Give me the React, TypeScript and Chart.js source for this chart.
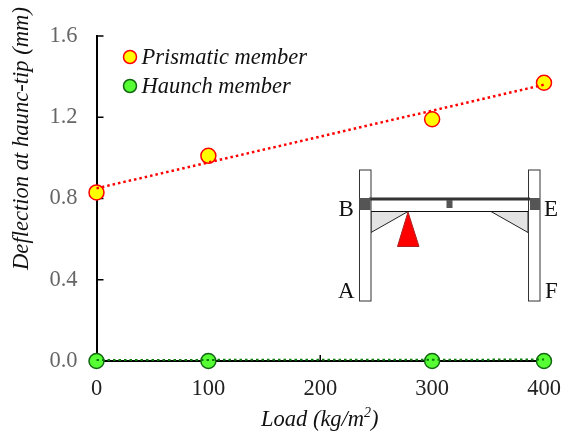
import React, { useEffect, useRef } from "react";
import { Chart, registerables } from "chart.js";

Chart.register(...registerables);

const loads = [0, 100, 300, 400];
const prismatic = [0.83, 1.01, 1.19, 1.37];
const haunch = [0, 0, 0, 0];
const trendLoads = [0, 400];
const prismaticTrend = [0.85, 1.36];
const haunchTrend = [0.005, 0.007];
const xTicks = [0, 100, 200, 300, 400];
const yTicks = [0, 0.4, 0.8, 1.2, 1.6];
const seriesNames = ["Prismatic member", "Haunch member"];
const FONT = '"Liberation Serif", "Times New Roman", serif';

const pairs = (xs: number[], ys: number[]) => xs.map((x, i) => ({ x, y: ys[i] }));

const ticksPlugin = {
  id: "innerTicks",
  beforeDatasetsDraw(chart: any) {
    const { ctx, scales } = chart;
    ctx.save();
    ctx.strokeStyle = "#000";
    ctx.lineWidth = 1.5;
    ctx.beginPath();
    scales.y.ticks.forEach((t: any) => {
      const py = scales.y.getPixelForValue(t.value);
      if (t.value === 0) return;
      ctx.moveTo(scales.x.left, py);
      ctx.lineTo(scales.x.left + 7, py);
    });
    scales.x.ticks.forEach((t: any) => {
      const px = scales.x.getPixelForValue(t.value);
      if (t.value === 0) return;
      ctx.moveTo(px, scales.y.bottom);
      ctx.lineTo(px, scales.y.bottom - 6);
    });
    ctx.stroke();
    ctx.restore();
  },
};

const titlesPlugin = {
  id: "axisTitles",
  afterDraw(chart: any) {
    const { ctx } = chart;
    ctx.save();
    ctx.fillStyle = "#111";
    ctx.textBaseline = "alphabetic";
    // y title
    ctx.save();
    ctx.translate(28, 138.5);
    ctx.rotate(-Math.PI / 2);
    ctx.font = `italic 22.6px ${FONT}`;
    ctx.textAlign = "center";
    ctx.fillText("Deflection at haunc-tip (mm)", 0, 0);
    ctx.restore();
    // x title with superscript
    ctx.textAlign = "left";
    ctx.font = `italic 22.5px ${FONT}`;
    const a = "Load (kg/m";
    const x0 = 261;
    const y0 = 426;
    ctx.fillText(a, x0, y0);
    const w = ctx.measureText(a).width;
    ctx.font = `italic 14px ${FONT}`;
    ctx.fillText("2", x0 + w, y0 - 9);
    const w2 = ctx.measureText("2").width;
    ctx.font = `italic 22.5px ${FONT}`;
    ctx.fillText(")", x0 + w + w2, y0);
    ctx.restore();
  },
};

const legendPlugin = {
  id: "insideLegend",
  afterDraw(chart: any) {
    const { ctx } = chart;
    const rows = [
      { y: 57, fill: "#ffff00", stroke: "#ff0000" },
      { y: 86, fill: "#55ff33", stroke: "#116611" },
    ];
    ctx.save();
    rows.forEach((r, i) => {
      ctx.beginPath();
      ctx.arc(130, r.y, 6.5, 0, Math.PI * 2);
      ctx.fillStyle = r.fill;
      ctx.fill();
      ctx.lineWidth = 1.5;
      ctx.strokeStyle = r.stroke;
      ctx.stroke();
      ctx.fillStyle = "#111";
      ctx.font = `italic 22.5px ${FONT}`;
      ctx.textAlign = "left";
      ctx.textBaseline = "middle";
      ctx.fillText(seriesNames[i], 141.5, r.y + 1);
    });
    ctx.restore();
  },
};

const insetPlugin = {
  id: "frameInset",
  afterDraw(chart: any) {
    const { ctx } = chart;
    ctx.save();
    const poly = (pts: number[][], fill: string, stroke: string, lw = 1) => {
      ctx.beginPath();
      pts.forEach(([a, b], i) => (i ? ctx.lineTo(a, b) : ctx.moveTo(a, b)));
      ctx.closePath();
      ctx.fillStyle = fill;
      ctx.fill();
      ctx.lineWidth = lw;
      ctx.strokeStyle = stroke;
      ctx.stroke();
    };
    // haunches
    poly([[371, 211.5], [408, 211.5], [371, 232.5]], "#e3e3e3", "#222");
    poly([[491, 211.5], [528, 211.5], [528, 232.5]], "#e3e3e3", "#222");
    // beam
    ctx.fillStyle = "#fff";
    ctx.strokeStyle = "#111";
    ctx.lineWidth = 1;
    ctx.fillRect(371, 199, 157, 12.5);
    ctx.beginPath();
    ctx.moveTo(371, 211.5);
    ctx.lineTo(528, 211.5);
    ctx.stroke();
    // columns
    ctx.lineWidth = 1;
    ctx.strokeStyle = "#333";
    ctx.fillRect(359.5, 170, 11.5, 131);
    ctx.strokeRect(359.5, 170, 11.5, 131);
    ctx.fillRect(528.5, 170, 11.5, 131);
    ctx.strokeRect(528.5, 170, 11.5, 131);
    // top flange and connections
    ctx.fillStyle = "#333";
    ctx.fillRect(369, 197.5, 161, 3);
    ctx.fillStyle = "#555";
    ctx.fillRect(359.5, 198, 11, 12);
    ctx.fillRect(530, 198, 10, 12);
    ctx.fillRect(446.5, 200, 6, 8);
    // load wedge
    poly([[408, 212], [397.5, 246.5], [419, 246.5]], "#ff0000", "#aa2222");
    // labels
    ctx.fillStyle = "#111";
    ctx.font = `23px ${FONT}`;
    ctx.textBaseline = "middle";
    ctx.textAlign = "left";
    ctx.fillText("B", 338.5, 210);
    ctx.fillText("E", 544, 210);
    ctx.fillText("A", 338, 292);
    ctx.fillText("F", 545, 292);
    ctx.restore();
  },
};

export default function App() {
  const ref = useRef<HTMLCanvasElement>(null);
  useEffect(() => {
    const chart = new Chart(ref.current!, {
      type: "scatter",
      data: {
        datasets: [
          {
            label: "Prismatic trend",
            data: pairs(trendLoads, prismaticTrend),
            showLine: true,
            borderColor: "#ff0000",
            borderWidth: 2.5,
            borderDash: [2.5, 3],
            pointRadius: 0,
          },
          {
            label: "Haunch trend",
            data: pairs(trendLoads, haunchTrend),
            showLine: true,
            borderColor: "#0a7a0a",
            borderWidth: 2,
            borderDash: [2.5, 3],
            pointRadius: 0,
          },
          {
            label: seriesNames[0],
            data: pairs(loads, prismatic),
            pointRadius: 7.5,
            pointBackgroundColor: "#ffff00",
            pointBorderColor: "#ff0000",
            pointBorderWidth: 1.5,
          },
          {
            label: seriesNames[1],
            data: pairs(loads, haunch),
            pointRadius: 7.5,
            pointBackgroundColor: "#55ff33",
            pointBorderColor: "#116611",
            pointBorderWidth: 1.5,
          },
        ],
      } as any,
      options: {
        animation: false,
        responsive: false,
        clip: false,
        layout: { padding: { left: 0, top: 36, right: 22, bottom: 0 } },
        plugins: { legend: { display: false }, tooltip: { enabled: false } },
        scales: {
          x: {
            type: "linear",
            min: 0,
            max: 400,
            afterBuildTicks: (s: any) => {
              s.ticks = xTicks.map((value) => ({ value }));
            },
            afterFit: (s: any) => {
              s.height = 75;
              s.paddingLeft = 0;
              s.paddingRight = 0;
            },
            grid: { display: false, drawTicks: false },
            border: { color: "#000", width: 2 },
            ticks: {
              color: "#222",
              padding: 15,
              maxRotation: 0,
              font: { family: FONT, size: 22.5 },
            },
          },
          y: {
            min: 0,
            max: 1.6,
            afterBuildTicks: (s: any) => {
              s.ticks = yTicks.map((value) => ({ value }));
            },
            afterFit: (s: any) => {
              s.width = 96.5;
              s.paddingTop = 0;
              s.paddingBottom = 0;
            },
            grid: { display: false, drawTicks: false },
            border: { color: "#000", width: 2 },
            ticks: {
              color: "#666",
              padding: 19,
              callback: (v: any) => Number(v).toFixed(1),
              font: { family: FONT, size: 22.5 },
            },
          },
        },
      },
      plugins: [ticksPlugin, titlesPlugin, legendPlugin, insetPlugin],
    } as any);
    return () => chart.destroy();
  }, []);
  return (
    <div style={{ position: "absolute", left: 0, top: 0, background: "#fff" }}>
      <canvas ref={ref} width={566} height={436} style={{ display: "block" }} />
    </div>
  );
}
